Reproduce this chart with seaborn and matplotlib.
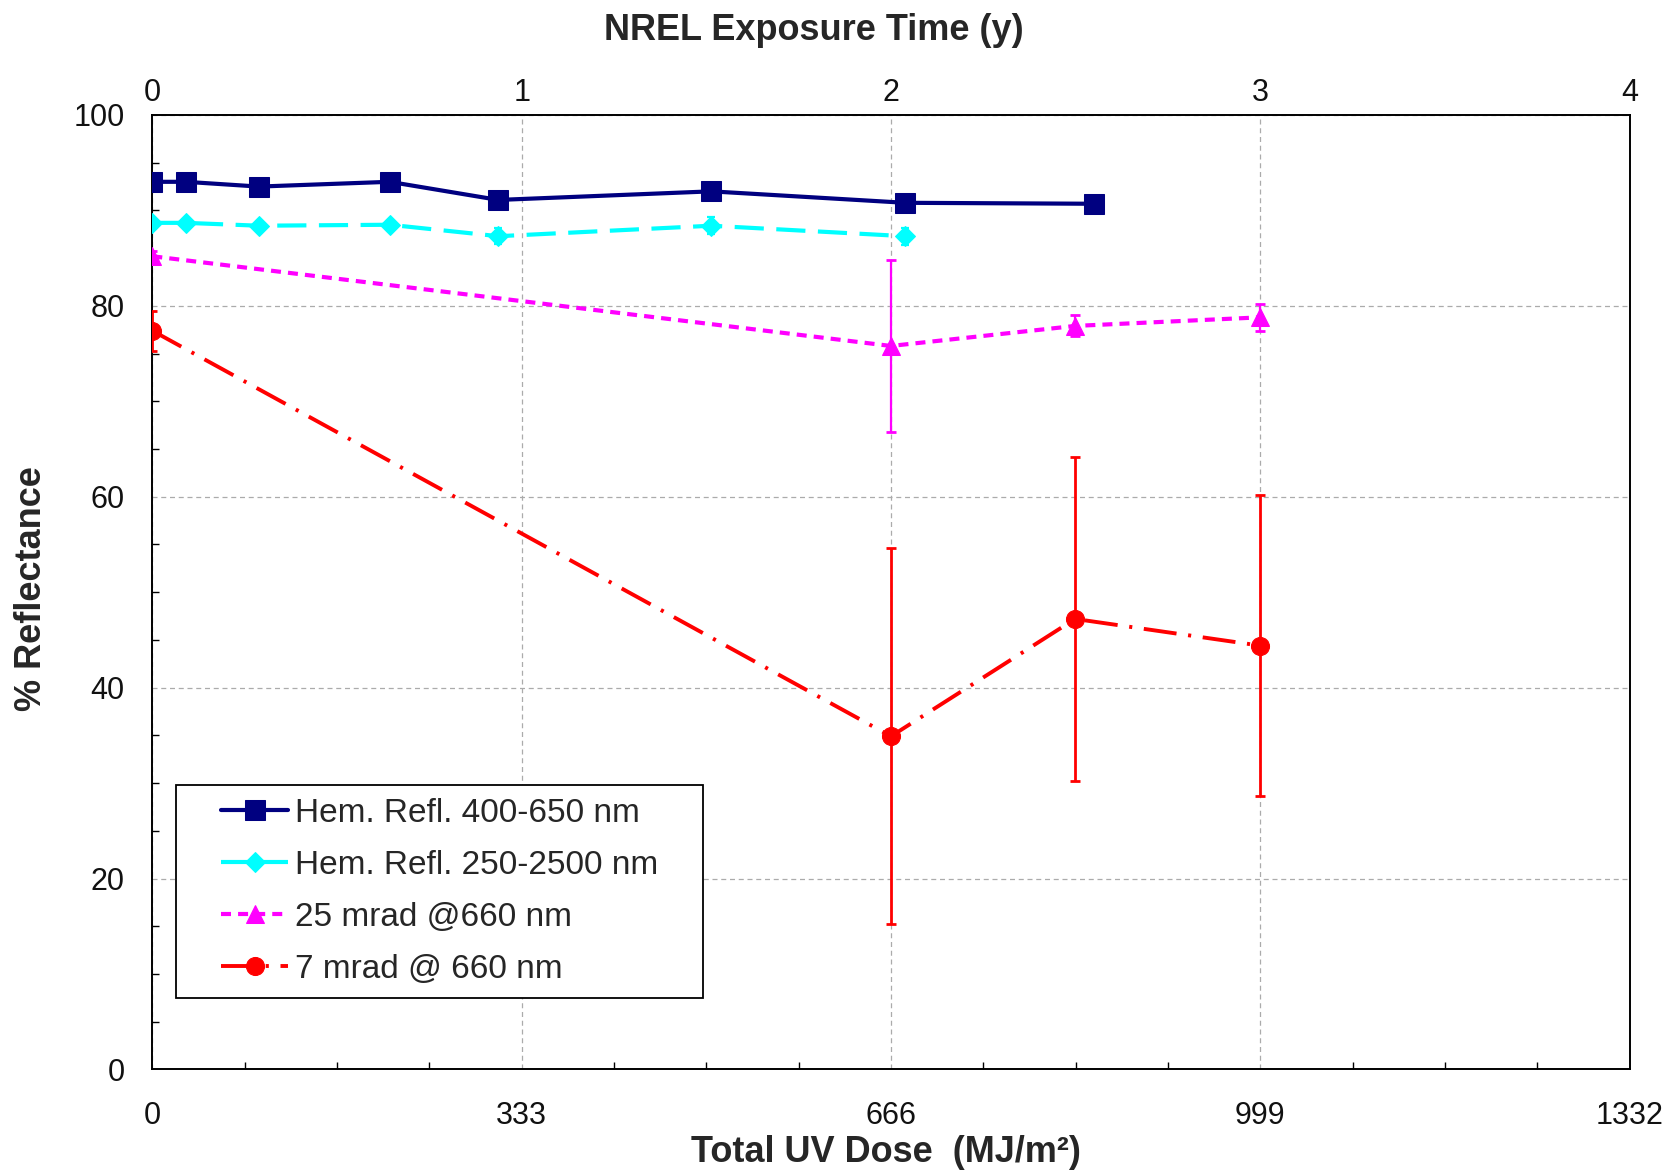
import matplotlib
matplotlib.use("Agg")
import matplotlib.pyplot as plt
from matplotlib.ticker import MultipleLocator, FixedLocator
from matplotlib.patches import Rectangle
import seaborn as sns

# Hemispherical reflectance 400-650 nm
dose_hem400 = [0, 30, 96, 214, 312, 504, 679, 849]
refl_hem400 = [93.0, 93.0, 92.5, 93.0, 91.1, 92.0, 90.8, 90.7]

# Hemispherical reflectance 250-2500 nm
dose_hem250 = [0, 30, 96, 214, 312, 504, 679]
refl_hem250 = [88.7, 88.7, 88.4, 88.5, 87.3, 88.4, 87.3]
err_hem250 = [0.3, 0.3, 0.3, 0.3, 0.85, 0.9, 0.9]

# Specular reflectance, 25 mrad @ 660 nm
dose_25mrad = [0, 666, 832, 999]
refl_25mrad = [85.2, 75.8, 77.9, 78.8]
err_25mrad = [0.5, 9.0, 1.1, 1.4]

# Specular reflectance, 7 mrad @ 660 nm
dose_7mrad = [0, 666, 832, 999]
refl_7mrad = [77.4, 34.9, 47.2, 44.4]
err_7mrad = [2.1, 19.7, 17.0, 15.8]

labels = ["Hem. Refl. 400-650 nm", "Hem. Refl. 250-2500 nm",
          "25 mrad @660 nm", "7 mrad @ 660 nm"]
x_ticks = [0, 333, 666, 999, 1332]
year_ticks = [0, 1, 2, 3, 4]

sns.set_theme(style="white")
plt.rcParams["font.family"] = ["Liberation Sans", "DejaVu Sans"]

W, H = 1670, 1170
fig = plt.figure(figsize=(W / 100, H / 100), dpi=100)
ax = fig.add_axes([152.3 / W, 1 - 1069.4 / H,
                   (1629.6 - 152.3) / W, (1069.4 - 115.0) / H])

navy, cyan, magenta, red = "#000080", "#00FFFF", "#FF00FF", "#FF0000"

# error bars first so markers sit on top
ax.errorbar(dose_hem250, refl_hem250, yerr=err_hem250, fmt="none",
            ecolor=cyan, elinewidth=1.6, capsize=3, capthick=1.6, zorder=3)
ax.errorbar(dose_25mrad, refl_25mrad, yerr=err_25mrad, fmt="none",
            ecolor=magenta, elinewidth=1.6, capsize=3.6, capthick=2.0, zorder=3)
ax.errorbar(dose_7mrad, refl_7mrad, yerr=err_7mrad, fmt="none",
            ecolor=red, elinewidth=2.0, capsize=3.6, capthick=2.0, zorder=3)

sns.lineplot(x=dose_hem400, y=refl_hem400, ax=ax, color=navy, linewidth=3.0,
             marker="s", markersize=14, markeredgecolor=navy,
             linestyle="-", label=labels[0], zorder=4)
sns.lineplot(x=dose_hem250, y=refl_hem250, ax=ax, color=cyan, linewidth=3.0,
             marker="D", markersize=10, markeredgecolor=cyan,
             linestyle=(0, (7.0, 3.0)), label=labels[1], zorder=4)
sns.lineplot(x=dose_25mrad, y=refl_25mrad, ax=ax, color=magenta, linewidth=3.0,
             marker="^", markersize=13, markeredgecolor=magenta,
             linestyle=(0, (2.4, 1.7)), label=labels[2], zorder=4)
sns.lineplot(x=dose_7mrad, y=refl_7mrad, ax=ax, color=red, linewidth=2.8,
             marker="o", markersize=13, markeredgecolor=red,
             linestyle=(0, (8.5, 3.0, 0.8, 3.0)), label=labels[3], zorder=4)

ax.set_xlim(0, 1332)
ax.set_ylim(0, 100)
ax.xaxis.set_major_locator(FixedLocator(x_ticks))
ax.xaxis.set_minor_locator(MultipleLocator(83.25))
ax.yaxis.set_major_locator(MultipleLocator(20))
ax.yaxis.set_minor_locator(MultipleLocator(5))

ax.grid(True, which="major", color="#ababab", linestyle=(0, (4, 3)), linewidth=0.9)
for s in ax.spines.values():
    s.set_color("black")
    s.set_linewidth(1.4)

ax.tick_params(axis="both", which="major", direction="inout", length=14,
               width=1.2, color="black", labelsize=22, labelcolor="#111111")
ax.tick_params(axis="x", which="major", pad=16)
ax.tick_params(axis="y", which="major", pad=13)
ax.tick_params(axis="both", which="minor", direction="in", length=5,
               width=1.0, color="black", bottom=True, left=True)

ax.set_xlabel("")
ax.set_ylabel("")
fig.text(886 / W, 1 - 1152 / H, "Total UV Dose  (MJ/m²)", ha="center",
         va="center", fontsize=26, fontweight="bold")
fig.text(32 / W, 1 - 589 / H, "% Reflectance", ha="center", va="center",
         rotation=90, fontsize=26, fontweight="bold")

# exposure time in years along the top edge
top = ax.secondary_xaxis("top", functions=(lambda d: d / 333.0, lambda y: y * 333.0))
top.set_xticks(year_ticks)
top.set_xticklabels([str(y) for y in year_ticks])
top.tick_params(length=0, pad=5, labelsize=22, labelcolor="#111111")
top.spines["top"].set_visible(False)
fig.text(814 / W, 1 - 30 / H, "NREL Exposure Time (y)", ha="center",
         va="center", fontsize=26, fontweight="bold")

# legend: framed box with entries inset from its left edge
box = Rectangle((0.01584, 0.0749), 0.3569, 0.2232, transform=ax.transAxes,
                facecolor="white", edgecolor="black", linewidth=1.3, zorder=5)
ax.add_patch(box)
leg = ax.legend(loc="center left", bbox_to_anchor=(0.0468, 0.1864),
                borderaxespad=0, borderpad=0, fontsize=24, frameon=False,
                handlelength=2.0, handletextpad=0.22, labelspacing=0.63)
leg.set_zorder(6)

fig.savefig("out.png", dpi=100)
